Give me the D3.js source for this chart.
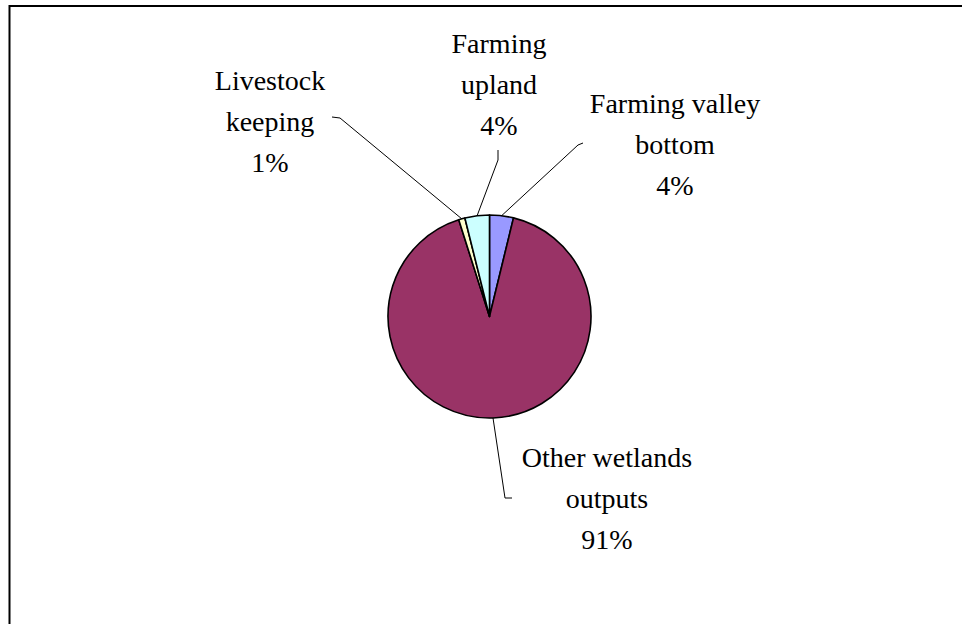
<!DOCTYPE html>
<html>
<head>
<meta charset="utf-8">
<script src="https://cdn.jsdelivr.net/npm/d3@7/dist/d3.min.js"></script>
<style>
  html, body { margin: 0; padding: 0; background: #fff; }
  svg { display: block; }
</style>
</head>
<body>
<div id="chart"></div>
<script>
// slice data, in clockwise order from 12 o'clock
const categories = ["Farming valley bottom", "Other wetlands outputs", "Livestock keeping", "Farming upland"];
const values = [3.8, 91.3, 1.0, 3.9];
const labelLines = [
  ["Farming valley", "bottom", "4%"],
  ["Other wetlands", "outputs", "91%"],
  ["Livestock", "keeping", "1%"],
  ["Farming", "upland", "4%"]
];
const colors = ["#9999FF", "#993366", "#FFFFCC", "#CCFFFF"];

// label layout: text centre x, first line y, leader start and elbow
const labelLayout = [
  { x: 675, y: 103, start: [583, 143], elbow: [578, 145] },
  { x: 607, y: 457, start: [512, 498], elbow: [505, 498] },
  { x: 270, y: 80,  start: [332, 117], elbow: [340, 118] },
  { x: 499, y: 43,  start: [498, 150], elbow: [498, 160] }
];

const width = 962, height = 624;
const cx = 489.5, cy = 316.5, radius = 101.5;
const lineH = 41;

// pick the first serif face that is really installed
function pickFont(list) {
  const ctx = document.createElement("canvas").getContext("2d");
  const probe = "Livestock keeping 91%";
  ctx.font = "40px monospace";
  const base = ctx.measureText(probe).width;
  for (const f of list) {
    ctx.font = `40px "${f}", monospace`;
    if (Math.abs(ctx.measureText(probe).width - base) > 0.5) return `"${f}"`;
  }
  return "serif";
}
const labelFont = pickFont(["Liberation Serif", "Times New Roman", "Tinos", "DejaVu Serif", "Noto Serif", "FreeSerif", "Times"]);

const svg = d3.select("#chart").append("svg")
  .attr("width", width)
  .attr("height", height);

// chart frame (runs off the right and bottom edges)
svg.append("rect")
  .attr("x", 9.5).attr("y", 6)
  .attr("width", 1000).attr("height", 700)
  .attr("fill", "none")
  .attr("stroke", "#000")
  .attr("stroke-width", 2);

const pie = d3.pie().sort(null).value(d => d)(values);
const arc = d3.arc().innerRadius(0).outerRadius(radius);

const g = svg.append("g").attr("transform", `translate(${cx},${cy})`);
g.selectAll("path")
  .data(pie)
  .join("path")
  .attr("d", arc)
  .attr("fill", (d, i) => colors[i])
  .attr("stroke", "#000")
  .attr("stroke-width", 1.6)
  .attr("stroke-linejoin", "round");

// leader lines
pie.forEach((d, i) => {
  const a = (d.startAngle + d.endAngle) / 2;
  const px = cx + radius * Math.sin(a);
  const py = cy - radius * Math.cos(a);
  const L = labelLayout[i];
  svg.append("path")
    .attr("d", d3.line()([L.start, L.elbow, [px, py]]))
    .attr("fill", "none")
    .attr("stroke", "#000")
    .attr("stroke-width", 1);
});

// labels
labelLines.forEach((lines, i) => {
  const L = labelLayout[i];
  const t = svg.append("text")
    .attr("text-anchor", "middle")
    .style("font-family", labelFont)
    .attr("font-size", 28)
    .attr("fill", "#000");
  lines.forEach((s, j) => {
    t.append("tspan")
      .attr("x", L.x)
      .attr("y", L.y + j * lineH)
      .attr("dominant-baseline", "central")
      .text(s);
  });
});
</script>
</body>
</html>
